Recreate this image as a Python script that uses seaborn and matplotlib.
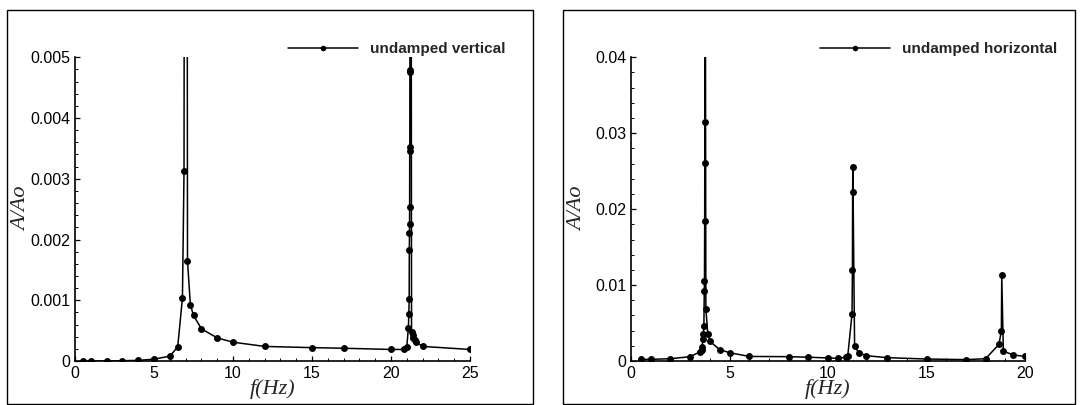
import numpy as np
import pandas as pd
import matplotlib
matplotlib.use("Agg")
import matplotlib.pyplot as plt
from matplotlib.patches import Rectangle
from matplotlib.ticker import MultipleLocator
import seaborn as sns

# ---------------- data ----------------
f_vert = [0.5, 1, 2, 3, 4, 5, 6, 6.5, 6.8, 6.9, 6.97, 7.06, 7.12, 7.3, 7.5, 8, 9, 10,
          12, 15, 17, 20, 20.8, 21.0, 21.1, 21.13, 21.15, 21.16, 21.17, 21.175,
          21.18, 21.185, 21.19, 21.195, 21.198, 21.2, 21.3, 21.37, 21.42, 21.5,
          21.6, 22, 25]
a_vert = [0.0, 0.0, 0.0, 0.000005, 0.00001, 0.00003, 0.00008, 0.00023, 0.00104,
          0.00312, 0.02, 0.02, 0.00165, 0.00093, 0.00075, 0.00053, 0.00038, 0.00031,
          0.00024, 0.00022, 0.00021, 0.00019, 0.00019, 0.00023, 0.00055, 0.00078,
          0.00102, 0.00182, 0.00211, 0.00226, 0.00254, 0.00346, 0.00352, 0.00476,
          0.00479, 0.03, 0.00048, 0.00042, 0.00038, 0.00034, 0.00031, 0.00024,
          0.00019]

f_horz = [0.5, 1, 2, 3, 3.5, 3.58, 3.6, 3.66, 3.68, 3.7, 3.72, 3.73, 3.74, 3.745,
          3.75, 3.76, 3.8, 3.9, 4.0, 4.5, 5, 6, 8, 9, 10, 10.5, 10.9, 11.0, 11.22,
          11.24, 11.25, 11.26, 11.35, 11.55, 11.95, 13, 15, 17, 18, 18.68, 18.8,
          18.82, 18.9, 19.4, 20]
a_horz = [0.00022, 0.00022, 0.0003, 0.00057, 0.0012, 0.0014, 0.0018, 0.0029,
          0.0036, 0.0046, 0.0092, 0.0105, 0.0184, 0.0261, 0.0315, 0.08, 0.0069,
          0.0035, 0.0026, 0.0015, 0.0011, 0.0006, 0.00057, 0.0005, 0.0004,
          0.00035, 0.0005, 0.0006, 0.0062, 0.012, 0.0222, 0.0255, 0.002, 0.0011,
          0.0007, 0.00044, 0.00026, 0.00018, 0.0003, 0.0022, 0.004, 0.0113,
          0.0013, 0.0008, 0.0006]

xticks_vert = [0, 5, 10, 15, 20, 25]
yticks_vert = [0, 0.001, 0.002, 0.003, 0.004, 0.005]
ylabels_vert = ["0", "0.001", "0.002", "0.003", "0.004", "0.005"]
xticks_horz = [0, 5, 10, 15, 20]
yticks_horz = [0, 0.01, 0.02, 0.03, 0.04]
ylabels_horz = ["0", "0.01", "0.02", "0.03", "0.04"]
legend_vert = "undamped vertical"
legend_horz = "undamped horizontal"
xlabel = "f(Hz)"
ylabel = "A/Ao"

# ---------------- style ----------------
sns.set_style("ticks")
plt.rcParams["font.family"] = ["Liberation Sans", "DejaVu Sans"]

W, H = 1082, 405
fig = plt.figure(figsize=(W / 100, H / 100), dpi=100)


def fx(px):
    return px / W


def fy(py):
    return 1 - py / H


def panel(ax_px, frame_px, legend_px, f, a, xticks, yticks, ylabels, xlim, ylim,
          xminor, yminor, label):
    l, r, t, b = ax_px
    ax = fig.add_axes([fx(l), fy(b), fx(r - l), (b - t) / H])
    df = pd.DataFrame({"f": f, "A": a})
    sns.lineplot(data=df, x="f", y="A", ax=ax, color="black", marker="o",
                 markersize=5, markeredgewidth=0, linewidth=1.1, estimator=None,
                 sort=True, label=label)
    ax.set_xlim(*xlim)
    ax.set_ylim(*ylim)
    ax.set_xticks(xticks)
    ax.set_xticklabels([str(v) for v in xticks])
    ax.set_yticks(yticks)
    ax.set_yticklabels(ylabels)
    ax.xaxis.set_minor_locator(MultipleLocator(xminor))
    ax.yaxis.set_minor_locator(MultipleLocator(yminor))
    for s in ["top", "right"]:
        ax.spines[s].set_visible(False)
    for s in ["left", "bottom"]:
        ax.spines[s].set_linewidth(1.2)
        ax.spines[s].set_color("black")
    ax.tick_params(which="major", direction="in", length=3.5, width=0.9,
                   labelsize=11.5, pad=3.5, colors="black")
    ax.tick_params(which="minor", direction="in", length=2, width=0.7,
                   colors="black")
    ax.set_xlabel(xlabel, fontfamily="Liberation Serif", fontstyle="italic",
                  fontsize=16)
    ax.set_ylabel(ylabel, fontfamily="Liberation Serif", fontstyle="italic",
                  fontsize=16)
    ax.xaxis.set_label_coords(0.5, -0.06)
    ax.yaxis.set_label_coords(-0.11, 0.5)
    ax.grid(False)
    lx, ly = legend_px
    leg = ax.legend(loc="center left", bbox_to_anchor=(fx(lx), fy(ly)),
                    bbox_transform=fig.transFigure, frameon=False, borderpad=0,
                    borderaxespad=0, handlelength=4.6, handletextpad=0.8,
                    markerscale=0.8, prop={"weight": "bold", "size": 11})
    fl, fr, ft, fb = frame_px
    fig.add_artist(Rectangle((fx(fl), fy(fb)), fx(fr - fl), (fb - ft) / H,
                             transform=fig.transFigure, fill=False,
                             edgecolor="black", linewidth=1.0))
    return ax


panel((75, 470, 57.3, 361), (7, 533, 10, 404), (288, 49), f_vert, a_vert,
      xticks_vert, yticks_vert, ylabels_vert, (0, 25), (0, 0.005), 1, 0.0002,
      legend_vert)
panel((631, 1025, 57.3, 361), (563, 1075, 10, 404), (820, 49), f_horz, a_horz,
      xticks_horz, yticks_horz, ylabels_horz, (0, 20), (0, 0.04), 1, 0.002,
      legend_horz)

fig.savefig("out.png", dpi=100)
